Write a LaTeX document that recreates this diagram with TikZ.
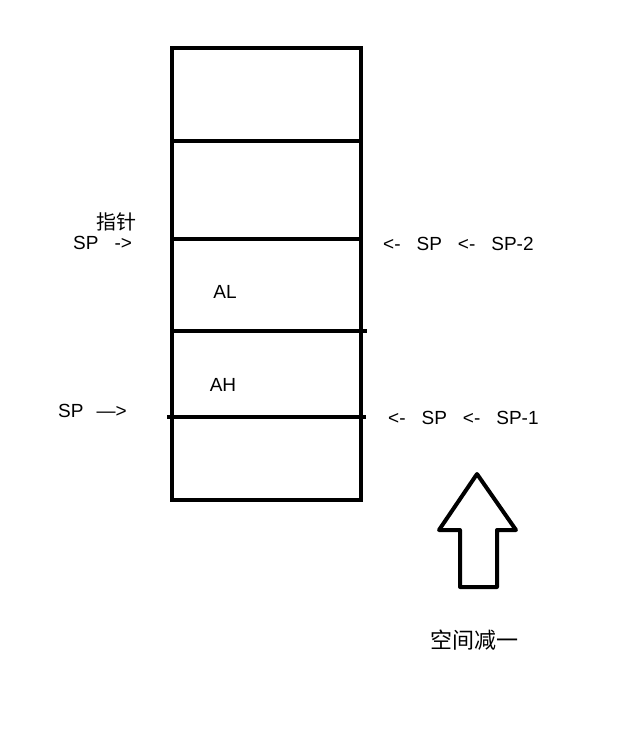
\documentclass[tikz,border=0pt]{standalone}
\usepackage{fontspec}
\setmainfont{Liberation Sans}
\newfontfamily\cjk{Noto Sans CJK SC}
\usetikzlibrary{positioning}
\newcommand{\gp}{\hspace{16pt}}

\begin{document}
\begin{tikzpicture}[x=1pt, y=-1pt,
        cell/.style={line width=4pt, line cap=rect},
        lbl/.style={font=\fontsize{19}{21}\selectfont, inner sep=0pt},
        zh/.style={font=\cjk\fontsize{20}{22}\selectfont, inner sep=0pt},
    ]
        \useasboundingbox (0,0) rectangle (632,748);

        % Stack frame
        \draw[cell] (172,48) rectangle (361,500);
        \foreach \y in {141, 239} \draw[cell] (172,\y) -- (361,\y);
        \draw[cell] (172,331) -- (365,331);
        \draw[cell] (169,417) -- (364,417);

        % Cell contents
        \node[lbl] (al) at (225,292) {AL};
        \node[lbl] (ah) at (223,385) {AH};

        % Left pointers
        \node[zh]  (ptr) at (116,222) {指针};
        \node[lbl, anchor=west] (spa) at (73,243) {SP\gp->};
        \node[lbl, anchor=west] (spb) at (58,411) {SP\hspace{13pt}—>};

        % Right pointers
        \node[lbl, anchor=west] (spc) at (383,244) {<-\gp SP\gp <-\gp SP-2};
        \node[lbl, anchor=west] (spd) at (388,418) {<-\gp SP\gp <-\gp SP-1};

        % Hollow arrow
        \draw[line width=4pt, line join=round]
            (477,474) -- (516,530) -- (497,530) -- (497,587) -- (460,587)
            -- (460,530) -- (439,530) -- cycle;
        \node[zh, font=\cjk\fontsize{22}{24}\selectfont] (dec) at (474,640) {空间减一};
    \end{tikzpicture}
\end{document}
